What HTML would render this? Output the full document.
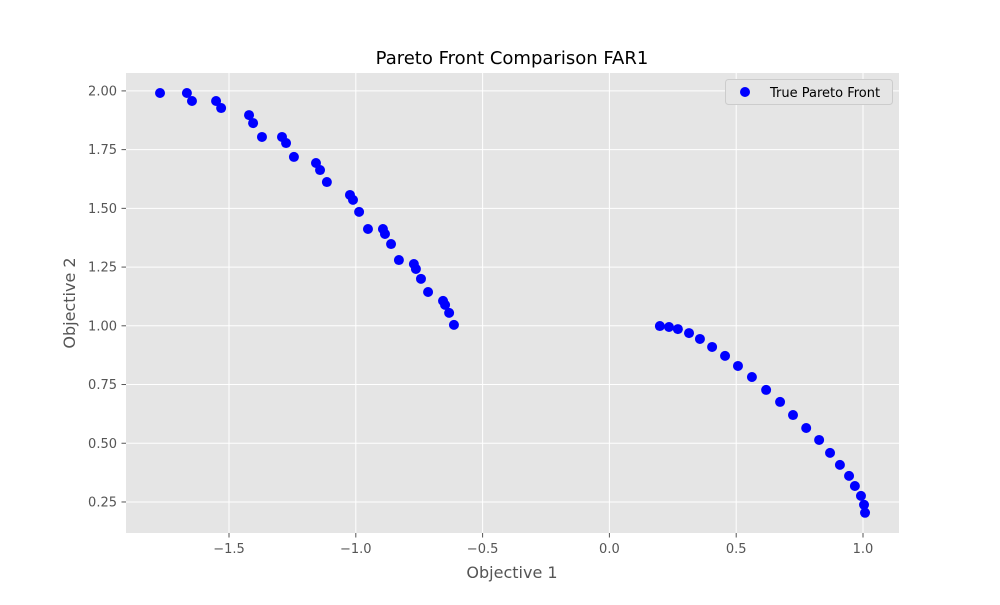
<!DOCTYPE html>
<html><head><meta charset="utf-8"><style>
body{margin:0;background:#fff;}
svg text{font-family:"DejaVu Sans","Liberation Sans",sans-serif;}
</style></head><body>
<svg id="chart" width="1000" height="600" xmlns="http://www.w3.org/2000/svg">
<rect x="126" y="73" width="773" height="460" fill="#e5e5e5"/>
<g id="grid"></g>
<g id="ticks"></g>
<g id="pts"></g>
<text x="512" y="64" font-size="18" text-anchor="middle" fill="#000">Pareto Front Comparison FAR1</text>
<text x="512" y="578" font-size="16" text-anchor="middle" fill="#555">Objective 1</text>
<text x="75" y="303" font-size="16" text-anchor="middle" fill="#555" transform="rotate(-90 75 303)">Objective 2</text>
<g>
<rect x="725.5" y="79.5" width="167" height="25" rx="3" fill="#e5e5e5" stroke="#ccc" stroke-width="1"/>
<circle cx="745" cy="92" r="5" fill="#0000ff"/>
<text x="770" y="97" font-size="13" fill="#000">True Pareto Front</text>
</g>
</svg>
<script>
const xTicks=[-1.5,-1.0,-0.5,0.0,0.5,1.0];
const xTickLabels=["−1.5","−1.0","−0.5","0.0","0.5","1.0"];
const yTicks=[0.25,0.5,0.75,1.0,1.25,1.5,1.75,2.0];
const yTickLabels=["0.25","0.50","0.75","1.00","1.25","1.50","1.75","2.00"];
const obj1=[-1.772,-1.666,-1.646,-1.551,-1.531,-1.421,-1.405,-1.370,-1.291,-1.275,-1.244,-1.157,-1.141,-1.114,-1.023,-1.011,-0.987,-0.952,-0.893,-0.885,-0.861,-0.830,-0.771,-0.763,-0.743,-0.715,-0.656,-0.648,-0.632,-0.613,
0.199,0.235,0.270,0.314,0.357,0.405,0.456,0.507,0.562,0.618,0.673,0.724,0.776,0.827,0.870,0.909,0.945,0.968,0.992,1.004,1.008];
const obj2=[1.991,1.991,1.957,1.957,1.927,1.897,1.863,1.804,1.804,1.778,1.719,1.693,1.663,1.612,1.557,1.536,1.485,1.412,1.412,1.391,1.348,1.280,1.263,1.242,1.200,1.144,1.106,1.089,1.055,1.004,
0.999,0.995,0.986,0.969,0.944,0.910,0.872,0.829,0.782,0.727,0.676,0.620,0.565,0.514,0.459,0.408,0.361,0.318,0.276,0.238,0.204];
const NS="http://www.w3.org/2000/svg";
const sx=v=>609.4+v*253.6;
const sy=v=>560.7-v*234.9;
function mk(tag,attrs,parent){const e=document.createElementNS(NS,tag);for(const k in attrs)e.setAttribute(k,attrs[k]);parent.appendChild(e);return e;}
const grid=document.getElementById('grid'),ticks=document.getElementById('ticks'),pts=document.getElementById('pts');
xTicks.forEach((t,i)=>{
 const x=sx(t);
 const l=mk('line',{x1:x,x2:x,y1:73,y2:533,stroke:'#fff','stroke-width':1},grid);
 
 
 const tk=mk('line',{x1:x,x2:x,y1:533,y2:537.5,stroke:'#555'},ticks);
 
 
 const tx=mk('text',{x:x,y:553,'font-size':13,'text-anchor':'middle',fill:'#555'},ticks);
 tx.textContent=xTickLabels[i];
 
 
});
yTicks.forEach((t,i)=>{
 const y=sy(t);
 const l=mk('line',{x1:126,x2:899,y1:y,y2:y,stroke:'#fff','stroke-width':1},grid);
 
 
 const tk=mk('line',{x1:121.5,x2:126,y1:y,y2:y,stroke:'#555'},ticks);
 
 
 const tx=mk('text',{x:117,y:y+4.5,'font-size':13,'text-anchor':'end',fill:'#555'},ticks);
 tx.textContent=yTickLabels[i];
 
 
});
obj1.forEach((v,i)=>{
 const c=mk('circle',{cx:sx(v),cy:sy(obj2[i]),r:5,fill:'#0000ff'},pts);
 
 
});
</script>
</body></html>
